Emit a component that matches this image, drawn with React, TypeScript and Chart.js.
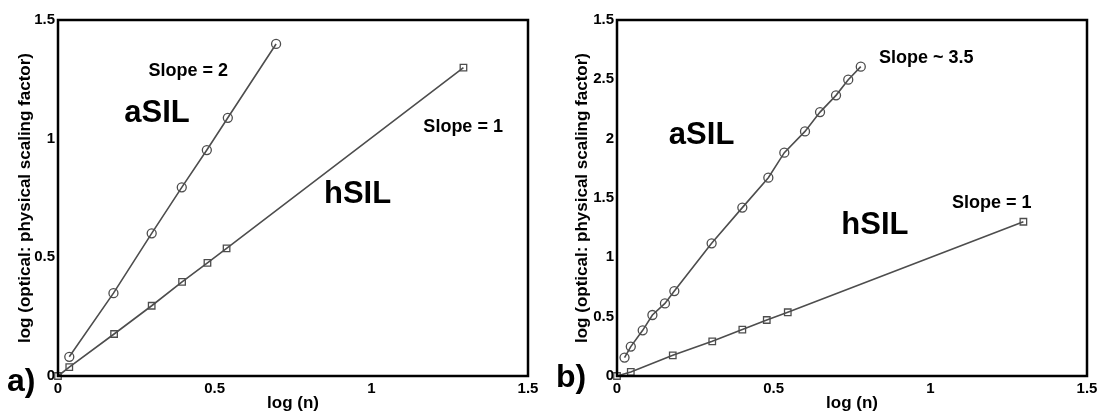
import React, { useEffect, useRef } from "react";
import { Chart, registerables } from "chart.js";

Chart.register(...registerables);

// ---- Data ----
// Panel a)
const aAsilX = [0.036, 0.177, 0.299, 0.395, 0.475, 0.542, 0.696];
const aAsilY = [0.081, 0.349, 0.601, 0.795, 0.952, 1.088, 1.399];
const aHsilX = [0, 0.036, 0.179, 0.299, 0.396, 0.477, 0.538, 1.294];
const aHsilY = [0, 0.037, 0.177, 0.296, 0.397, 0.477, 0.538, 1.299];
// Panel b)
const bAsilX = [0.024, 0.044, 0.082, 0.113, 0.153, 0.183, 0.302, 0.4, 0.483, 0.534, 0.6, 0.648, 0.699, 0.738, 0.778];
const bAsilY = [0.155, 0.248, 0.385, 0.514, 0.612, 0.716, 1.118, 1.419, 1.671, 1.882, 2.061, 2.224, 2.365, 2.497, 2.607];
const bHsilX = [0, 0.044, 0.178, 0.304, 0.4, 0.478, 0.545, 1.297];
const bHsilY = [0, 0.034, 0.174, 0.292, 0.391, 0.472, 0.537, 1.3];

// Tick labels
const xTickLabels = ["0", "0.5", "1", "1.5"];
const aYTickLabels = ["0", "0.5", "1", "1.5"];
const bYTickLabels = ["0", "0.5", "1", "1.5", "2", "2.5", "1.5"];

const xTitle = "log (n)";
const yTitle = "log (optical: physical scaling factor)";

// Annotations (text in data coordinates of each panel)
const aNotes = [
  { text: "Slope = 2", x: 0.416, y: 1.264, size: 18 },
  { text: "aSIL", x: 0.316, y: 1.072, size: 31 },
  { text: "Slope = 1", x: 1.293, y: 1.029, size: 18 },
  { text: "hSIL", x: 0.956, y: 0.728, size: 31 },
];
const bNotes = [
  { text: "Slope ~ 3.5", x: 0.987, y: 2.64, size: 18 },
  { text: "aSIL", x: 0.27, y: 1.951, size: 31 },
  { text: "Slope = 1", x: 1.196, y: 1.419, size: 18 },
  { text: "hSIL", x: 0.823, y: 1.194, size: 31 },
];

const FONT = "'Liberation Sans', Arial, Helvetica, sans-serif";
const LINE = "#4d4d4d";

function toPoints(xs: number[], ys: number[]) {
  return xs.map((x, i) => ({ x, y: ys[i] }));
}

type PanelProps = {
  asilX: number[];
  asilY: number[];
  hsilX: number[];
  hsilY: number[];
  yMax: number;
  yLabels: string[];
  notes: { text: string; x: number; y: number; size: number }[];
  panelLabel: string;
  panelLabelX: number;
  panelLabelY: number;
  yAxisWidth: number;
  padRight: number;
  yTitlePad: number;
  left: number;
};

function Panel(p: PanelProps) {
  const ref = useRef<HTMLCanvasElement | null>(null);
  useEffect(() => {
    if (!ref.current) return;
    const overlay = {
      id: "overlay",
      afterDatasetsDraw(chart: any) {
        const { ctx, chartArea, scales } = chart;
        ctx.save();
        ctx.strokeStyle = "#000";
        ctx.lineWidth = 2.5;
        ctx.strokeRect(chartArea.left, chartArea.top, chartArea.right - chartArea.left, chartArea.bottom - chartArea.top);
        ctx.fillStyle = "#000";
        ctx.textAlign = "center";
        ctx.textBaseline = "alphabetic";
        for (const n of p.notes) {
          ctx.font = `bold ${n.size}px ${FONT}`;
          ctx.fillText(n.text, scales.x.getPixelForValue(n.x), scales.y.getPixelForValue(n.y));
        }
        ctx.textAlign = "left";
        ctx.font = `bold 32px ${FONT}`;
        ctx.fillText(p.panelLabel, p.panelLabelX, p.panelLabelY);
        ctx.restore();
      },
    };
    const chart = new Chart(ref.current, {
      type: "scatter",
      data: {
        datasets: [
          {
            label: "aSIL",
            data: toPoints(p.asilX, p.asilY),
            showLine: true,
            borderColor: LINE,
            borderWidth: 1.6,
            pointStyle: "circle",
            pointRadius: 4.5,
            pointBorderWidth: 1.3,
            pointBorderColor: LINE,
            pointBackgroundColor: "rgba(0,0,0,0)",
            clip: false as any,
          },
          {
            label: "hSIL",
            data: toPoints(p.hsilX, p.hsilY),
            showLine: true,
            borderColor: LINE,
            borderWidth: 1.6,
            pointStyle: "rect",
            pointRadius: 4.6,
            pointBorderWidth: 1.3,
            pointBorderColor: LINE,
            pointBackgroundColor: "rgba(0,0,0,0)",
            clip: false as any,
          },
        ],
      },
      options: {
        responsive: false,
        animation: false,
        layout: { padding: { left: 0, right: p.padRight, top: 20, bottom: 0 } },
        plugins: { legend: { display: false }, tooltip: { enabled: false } },
        scales: {
          x: {
            type: "linear",
            min: 0,
            max: 1.5,
            grid: { display: false, drawTicks: false },
            border: { display: false },
            ticks: {
              stepSize: 0.5,
              padding: 4,
              color: "#000",
              font: { family: FONT, size: 15, weight: "bold" },
              callback: (v: any) => xTickLabels[Math.round(Number(v) / 0.5)] ?? "",
            },
            title: {
              display: true,
              text: xTitle,
              color: "#000",
              font: { family: FONT, size: 17, weight: "bold", lineHeight: 1 },
              padding: { top: 0, bottom: 0 },
            },
            afterFit: (s: any) => {
              s.height = 36;
            },
          },
          y: {
            type: "linear",
            min: 0,
            max: p.yMax,
            grid: { display: false, drawTicks: false },
            border: { display: false },
            ticks: {
              stepSize: 0.5,
              padding: 3,
              color: "#000",
              font: { family: FONT, size: 15, weight: "bold" },
              callback: (v: any) => p.yLabels[Math.round(Number(v) / 0.5)] ?? "",
            },
            title: {
              display: true,
              text: yTitle,
              color: "#000",
              font: { family: FONT, size: 17, weight: "bold", lineHeight: 1 },
              padding: { top: p.yTitlePad, bottom: 0 },
            },
            afterFit: (s: any) => {
              s.width = p.yAxisWidth;
            },
          },
        },
      } as any,
      plugins: [overlay],
    });
    return () => chart.destroy();
  }, []);
  return (
    <canvas
      ref={ref}
      width={552}
      height={412}
      style={{ position: "absolute", left: p.left, top: 0, width: 552, height: 412 }}
    />
  );
}

export default function App() {
  return (
    <div style={{ position: "absolute", left: 0, top: 0, width: 1104, height: 412, background: "#fff" }}>
      <Panel
        asilX={aAsilX}
        asilY={aAsilY}
        hsilX={aHsilX}
        hsilY={aHsilY}
        yMax={1.5}
        yLabels={aYTickLabels}
        notes={aNotes}
        panelLabel="a)"
        panelLabelX={7}
        panelLabelY={391}
        yAxisWidth={58}
        padRight={24}
        yTitlePad={16.5}
        left={0}
      />
      <Panel
        asilX={bAsilX}
        asilY={bAsilY}
        hsilX={bHsilX}
        hsilY={bHsilY}
        yMax={3}
        yLabels={bYTickLabels}
        notes={bNotes}
        panelLabel="b)"
        panelLabelX={4}
        panelLabelY={387}
        yAxisWidth={65}
        padRight={17}
        yTitlePad={22}
        left={552}
      />
    </div>
  );
}
